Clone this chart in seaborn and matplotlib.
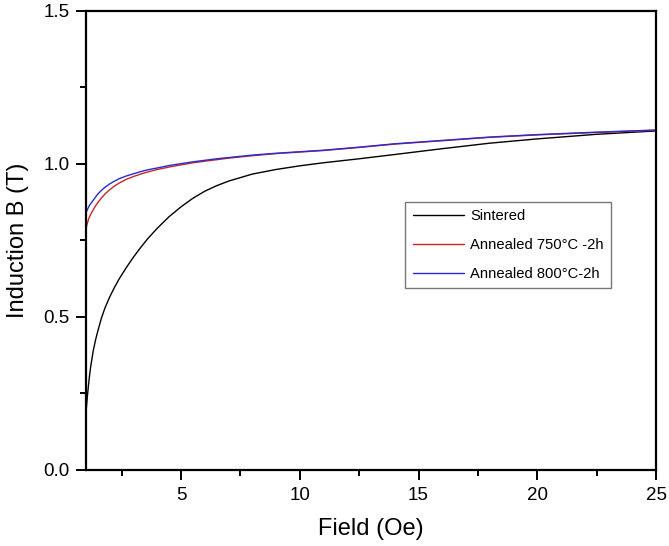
import numpy as np
import pandas as pd
import matplotlib
matplotlib.use("Agg")
import matplotlib.pyplot as plt
from matplotlib.ticker import MultipleLocator
import seaborn as sns

# values
field = [1.0, 1.05, 1.1, 1.15, 1.2, 1.3, 1.4, 1.5, 1.65, 1.8, 2.0, 2.2, 2.4, 2.7,
         3.0, 3.3, 3.6, 4.0, 4.5, 5.0, 5.5, 6.0, 6.5, 7.0, 8.0, 9.0, 10.0, 11.0,
         12.5, 14.0, 16.0, 18.0, 20.0, 22.5, 25.0]
sintered = [0.19, 0.235, 0.275, 0.31, 0.34, 0.388, 0.425, 0.455, 0.497, 0.53,
            0.566, 0.597, 0.625, 0.662, 0.696, 0.727, 0.756, 0.79, 0.828, 0.86,
            0.888, 0.911, 0.929, 0.944, 0.967, 0.982, 0.994, 1.004, 1.017, 1.031,
            1.05, 1.068, 1.082, 1.097, 1.108]
annealed_750 = [0.79, 0.805, 0.818, 0.828, 0.836, 0.85, 0.863, 0.874, 0.889, 0.902,
                0.916, 0.928, 0.938, 0.95, 0.959, 0.967, 0.974, 0.982, 0.99, 0.997,
                1.004, 1.009, 1.014, 1.019, 1.027, 1.034, 1.039, 1.044, 1.054, 1.065,
                1.076, 1.087, 1.095, 1.103, 1.110]
annealed_800 = [0.84, 0.85, 0.858, 0.865, 0.871, 0.881, 0.892, 0.902, 0.914, 0.924,
                0.935, 0.944, 0.952, 0.961, 0.968, 0.975, 0.981, 0.987, 0.995, 1.001,
                1.007, 1.012, 1.017, 1.021, 1.029, 1.035, 1.040, 1.045, 1.055, 1.066,
                1.077, 1.088, 1.096, 1.104, 1.111]
labels = ["Sintered", "Annealed 750°C -2h", "Annealed 800°C-2h"]
colors = ["#000000", "#c0282a", "#2a2ad0"]

df = pd.concat([
    pd.DataFrame({"field": field, "B": vals, "sample": lab})
    for vals, lab in zip([sintered, annealed_750, annealed_800], labels)
])

sns.set_style("white")
plt.rcParams["font.family"] = ["Liberation Sans", "DejaVu Sans"]
plt.rcParams.update({"text.color": "black", "axes.labelcolor": "black",
                     "xtick.color": "black", "ytick.color": "black"})

fig = plt.figure(figsize=(6.69, 5.46), dpi=100)
ax = fig.add_axes([0.1286, 0.1392, 0.852, 0.8407])

sns.lineplot(data=df, x="field", y="B", hue="sample", hue_order=labels,
             palette=colors, linewidth=1.0, sort=False, ax=ax)

ax.set_xlim(1, 25)
ax.set_ylim(0, 1.5)
ax.set_xticks([5, 10, 15, 20, 25])
ax.set_yticks([0, 0.5, 1.0, 1.5])
ax.set_yticklabels(["0.0", "0.5", "1.0", "1.5"])
ax.xaxis.set_minor_locator(MultipleLocator(2.5))
ax.yaxis.set_minor_locator(MultipleLocator(0.25))

ax.tick_params(which="major", direction="out", length=7, width=1.4,
               labelsize=13.5, bottom=True, left=True, top=False, right=False, pad=5)
ax.tick_params(which="minor", direction="out", length=4, width=1.4,
               bottom=True, left=True, top=False, right=False)
for s in ax.spines.values():
    s.set_linewidth(1.6)
    s.set_color("black")

ax.set_xlabel("Field (Oe)", fontsize=17, labelpad=10)
ax.set_ylabel("Induction B (T)", fontsize=17, labelpad=10)

leg = ax.legend(loc="upper left", bbox_to_anchor=(0.56, 0.584), borderaxespad=0,
                fontsize=10.6, frameon=True, fancybox=False, handlelength=3.5,
                handletextpad=0.4, labelspacing=1.0, borderpad=0.5)
leg.get_frame().set_edgecolor("#555555")
leg.get_frame().set_linewidth(1.0)
for line in leg.get_lines():
    line.set_linewidth(1.0)

fig.savefig("out.png", dpi=100)
